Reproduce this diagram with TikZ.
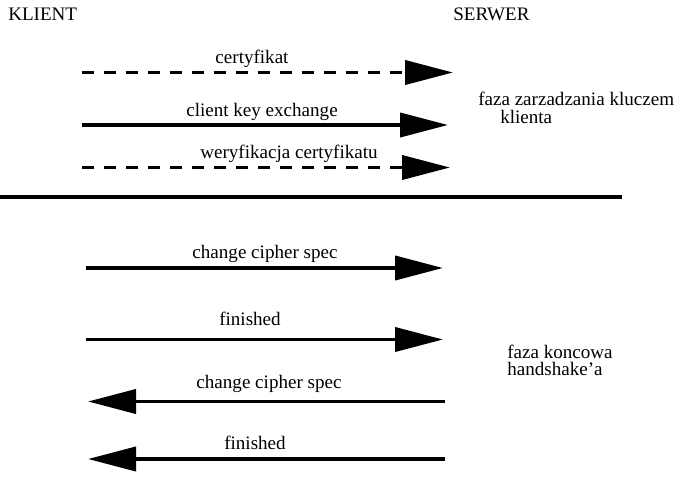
\documentclass[tikz,border=0pt]{standalone}
\usepackage{fontspec}
\setmainfont{Liberation Serif}
\usetikzlibrary{arrows.meta}
\begin{document}
\begin{tikzpicture}[x=0.75pt,y=-0.75pt,
  lbl/.style={inner sep=0pt,anchor=base,font=\fontsize{14.3}{17}\selectfont},
  lblw/.style={inner sep=0pt,anchor=base west,font=\fontsize{14.3}{17}\selectfont},
  msg/.style={line width=2.9pt,-{Triangle[length=36pt,width=18pt]}},
  dmsg/.style={msg,dash pattern=on 9pt off 7.5pt},
  sep/.style={line width=3pt}]
\useasboundingbox (0,0) rectangle (683,489);
% headers
\node[lblw] (klient) at (8,20.5) {KLIENT};
\node[lblw] (serwer) at (453,20.5) {SERWER};
% phase 1
\coordinate (a1s) at (82,72.5);  \coordinate (a1e) at (453,72.5);
\coordinate (a2s) at (82,125);   \coordinate (a2e) at (448,125);
\coordinate (a3s) at (82,167.5); \coordinate (a3e) at (450,167.5);
\draw[dmsg] (a1s) -- (a1e);
\draw[msg]  (a2s) -- (a2e);
\draw[dmsg] (a3s) -- (a3e);
\node[lbl] (l1) at (252,63) {certyfikat};
\node[lbl] (l2) at (262,116.5) {client key exchange};
\node[lbl] (l3) at (289,158) {weryfikacja certyfikatu};
\node[lblw] (f1a) at (478,105) {faza zarzadzania kluczem};
\node[lblw] (f1b) at (500,123) {klienta};
% separator
\coordinate (s1) at (0,197); \coordinate (s2) at (622,197);
\draw[sep] (s1) -- (s2);
% phase 2
\coordinate (b1s) at (86,268);  \coordinate (b1e) at (443,268);
\coordinate (b2s) at (86,339.5);\coordinate (b2e) at (443,339.5);
\coordinate (b3s) at (445,401.5);\coordinate (b3e) at (88,401.5);
\coordinate (b4s) at (445,459); \coordinate (b4e) at (88,459);
\draw[msg] (b1s) -- (b1e);
\draw[msg] (b2s) -- (b2e);
\draw[msg] (b3s) -- (b3e);
\draw[msg] (b4s) -- (b4e);
\node[lbl] (m1) at (265,258) {change cipher spec};
\node[lbl] (m2) at (250,325) {finished};
\node[lbl] (m3) at (269,388) {change cipher spec};
\node[lbl] (m4) at (255,449) {finished};
\node[lblw] (f2a) at (507,358) {faza koncowa};
\node[lblw] (f2b) at (507,375.5) {handshake’a};
\end{tikzpicture}
\end{document}
